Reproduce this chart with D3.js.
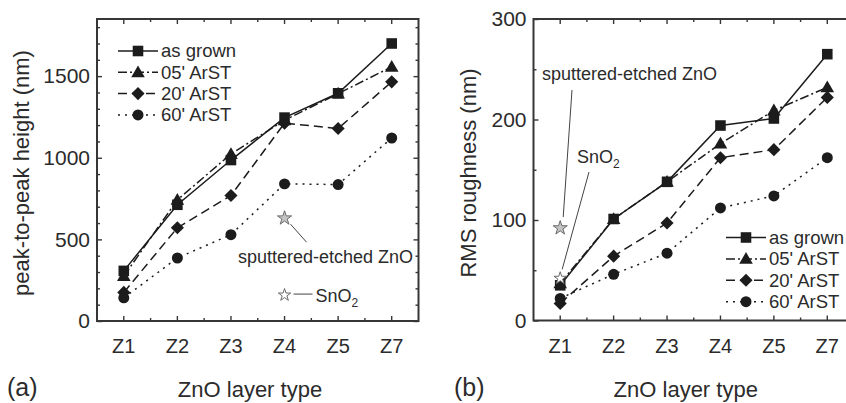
<!DOCTYPE html>
<html>
<head>
<meta charset="utf-8">
<script src="https://cdn.jsdelivr.net/npm/d3@7"></script>
<style>
  html, body { margin: 0; padding: 0; background: #fff; }
  svg { display: block; font-family: "Liberation Sans", Arial, Helvetica, sans-serif; }
  text { fill: #2b2b2b; }
</style>
</head>
<body>
<svg id="chart" width="846" height="403"></svg>
<script>
// ---------------- data ----------------
const categories = ["Z1", "Z2", "Z3", "Z4", "Z5", "Z7"];
const seriesNames = ["as grown", "05' ArST", "20' ArST", "60' ArST"];

// (a) peak-to-peak height (nm)
const p2pAsGrown = [307, 712, 986, 1246, 1395, 1700];
const p2p05 = [275, 742, 1023, 1230, 1393, 1557];
const p2p20 = [175, 571, 769, 1212, 1179, 1465];
const p2p60 = [142, 386, 529, 840, 836, 1121];

// (b) RMS roughness (nm)
const rmsAsGrown = [35, 101, 138, 194, 201, 265];
const rms05 = [37, 101, 138, 176, 209, 232];
const rms20 = [17, 64, 97, 162, 170, 222];
const rms60 = [22, 46, 67, 112, 124, 162];

// reference stars: [category, value]
const p2pSputtered = ["Z4", 636];
const p2pSnO2 = ["Z4", 165];
const rmsSputtered = ["Z1", 93];
const rmsSnO2 = ["Z1", 43];

const p2pTicks = [0, 500, 1000, 1500];
const rmsTicks = [0, 100, 200, 300];

// ---------------- styles ----------------
const ink = "#1c1c1c";
const frame = "#363636";
const dashes = [null, "9,3,2,3", "9,5", "2,5"];
const symbols = ["square", "triangle", "diamond", "circle"];

const svg = d3.select("#chart");

function markerPath(kind) {
  if (kind === "square") return d3.symbol(d3.symbolSquare, 112)();
  if (kind === "triangle") return d3.symbol(d3.symbolTriangle, 80)();
  if (kind === "diamond") return d3.symbol(d3.symbolSquare, 86)();
  return d3.symbol(d3.symbolCircle, 95)();
}
function markerTransform(kind, x, y) {
  if (kind === "diamond") return `translate(${x},${y}) rotate(45)`;
  if (kind === "triangle") return `translate(${x},${y + 1})`;
  return `translate(${x},${y})`;
}

function panel(opts) {
  const g = svg.append("g");
  const x = d3.scaleBand().domain(categories).range([opts.x0, opts.x1]).padding(0);
  const y = d3.scaleLinear().domain(opts.yDomain).range([opts.y0, opts.y1]);
  const cx = c => x(c) + x.bandwidth() / 2;
  const fmt = d3.format("d");

  const axisStyle = sel => {
    sel.selectAll(".domain").remove();
    sel.selectAll(".tick line").attr("stroke", frame).attr("stroke-width", 1.4);
    sel.selectAll("text").attr("fill", "#2b2b2b");
  };
  // bottom
  g.append("g").attr("transform", `translate(0,${opts.y0})`)
    .call(d3.axisBottom(x).tickSize(-5).tickPadding(18))
    .call(axisStyle)
    .selectAll("text").attr("font-size", 20);
  // top
  g.append("g").attr("transform", `translate(0,${opts.y1})`)
    .call(d3.axisTop(x).tickSize(-5).tickFormat(""))
    .call(axisStyle);
  // minor x ticks (band edges)
  const minorX = categories.slice(1);
  [opts.y0, opts.y1].forEach((yy, k) => {
    g.append("g").selectAll("line").data(minorX).join("line")
      .attr("x1", c => x(c)).attr("x2", c => x(c))
      .attr("y1", yy).attr("y2", k === 0 ? yy - 3 : yy + 3)
      .attr("stroke", frame).attr("stroke-width", 1.4);
  });
  const minorY = d3.range(opts.yDomain[0], opts.yDomain[1] + 1e-6, opts.minorStep)
    .filter(v => !opts.ticks.includes(v));
  // left
  g.append("g").attr("transform", `translate(${opts.x0},0)`)
    .call(d3.axisLeft(y).tickValues(opts.ticks).tickFormat(fmt).tickSize(-5).tickPadding(7))
    .call(axisStyle)
    .selectAll("text").attr("font-size", 21);
  g.append("g").attr("transform", `translate(${opts.x0},0)`)
    .call(d3.axisLeft(y).tickValues(minorY).tickSize(-3).tickFormat(""))
    .call(axisStyle);
  // right
  g.append("g").attr("transform", `translate(${opts.x1},0)`)
    .call(d3.axisRight(y).tickValues(opts.ticks).tickSize(-5).tickFormat(""))
    .call(axisStyle);
  g.append("g").attr("transform", `translate(${opts.x1},0)`)
    .call(d3.axisRight(y).tickValues(minorY).tickSize(-3).tickFormat(""))
    .call(axisStyle);

  // frame
  g.append("rect")
    .attr("x", opts.x0).attr("y", opts.y1)
    .attr("width", opts.x1 - opts.x0).attr("height", opts.y0 - opts.y1)
    .attr("fill", "none").attr("stroke", frame).attr("stroke-width", 2);

  // series
  const line = d3.line().x((d, i) => cx(categories[i])).y(d => y(d));
  opts.series.forEach((vals, s) => {
    g.append("path").datum(vals)
      .attr("d", line).attr("fill", "none")
      .attr("stroke", ink).attr("stroke-width", 1.5)
      .attr("stroke-dasharray", dashes[s]);
  });
  opts.series.forEach((vals, s) => {
    g.append("g").selectAll("path").data(vals).join("path")
      .attr("d", markerPath(symbols[s]))
      .attr("transform", (d, i) => markerTransform(symbols[s], cx(categories[i]), y(d)))
      .attr("fill", ink);
  });

  // legend
  const lg = g.append("g");
  seriesNames.forEach((name, s) => {
    const yy = opts.legY + s * opts.legDy;
    lg.append("line")
      .attr("x1", opts.legX).attr("x2", opts.legX + 40)
      .attr("y1", yy).attr("y2", yy)
      .attr("stroke", ink).attr("stroke-width", 1.5)
      .attr("stroke-dasharray", dashes[s]);
    lg.append("path").attr("d", markerPath(symbols[s]))
      .attr("transform", markerTransform(symbols[s], opts.legX + 20, yy))
      .attr("fill", ink);
    lg.append("text").attr("x", opts.legX + 43).attr("y", yy).attr("dy", "0.35em")
      .attr("font-size", 18.5).text(name);
  });

  // stars
  const star = d3.symbol(d3.symbolStar);
  const sp = opts.sputtered, sn = opts.sno2;
  g.append("path").attr("d", star.size(62)())
    .attr("transform", `translate(${cx(sp[0])},${y(sp[1]) + 1})`)
    .attr("fill", "#c4c4c4").attr("stroke", "#6a6a6a").attr("stroke-width", 1);
  g.append("path").attr("d", star.size(48)())
    .attr("transform", `translate(${cx(sn[0])},${y(sn[1]) + 1})`)
    .attr("fill", "#fff").attr("stroke", "#6a6a6a").attr("stroke-width", 1);

  // axis titles
  g.append("text").attr("x", (opts.x0 + opts.x1c) / 2).attr("y", 397)
    .attr("text-anchor", "middle").attr("font-size", 22).text("ZnO layer type");
  g.append("text").attr("transform", `translate(${opts.titleX},173) rotate(-90)`)
    .attr("text-anchor", "middle").attr("font-size", 22).text(opts.yTitle);
  g.append("text").attr("x", opts.tagX).attr("y", 396)
    .attr("font-size", 25).text(opts.tag);

  return { g, x, y, cx };
}

// ---------- panel (a) ----------
const A = panel({
  x0: 97, x1: 418.5, x1c: 403, y0: 321, y1: 19,
  yDomain: [0, 1850], ticks: p2pTicks, minorStep: 100,
  series: [p2pAsGrown, p2p05, p2p20, p2p60],
  legX: 118, legY: 51, legDy: 21.3,
  sputtered: p2pSputtered, sno2: p2pSnO2,
  yTitle: "peak-to-peak height (nm)", titleX: 29, tag: "(a)", tagX: 7
});
// annotations (a)
{
  const sx = A.cx(p2pSputtered[0]), sy = A.y(p2pSputtered[1]);
  A.g.append("line").attr("x1", sx + 6).attr("y1", sy + 7).attr("x2", sx + 22).attr("y2", sy + 25)
    .attr("stroke", "#444").attr("stroke-width", 1);
  A.g.append("text").attr("x", 238).attr("y", 263).attr("font-size", 18).text("sputtered-etched ZnO");
  const nx = A.cx(p2pSnO2[0]), ny = A.y(p2pSnO2[1]);
  A.g.append("line").attr("x1", nx + 9).attr("y1", ny).attr("x2", nx + 28).attr("y2", ny)
    .attr("stroke", "#444").attr("stroke-width", 1);
  const t = A.g.append("text").attr("x", nx + 31).attr("y", ny + 8).attr("font-size", 18);
  t.append("tspan").text("SnO");
  t.append("tspan").attr("font-size", 12).attr("dy", 5).text("2");
}

// ---------- panel (b) ----------
const B = panel({
  x0: 533.5, x1: 854, x1c: 838, y0: 320.5, y1: 19,
  yDomain: [0, 300], ticks: rmsTicks, minorStep: 50,
  series: [rmsAsGrown, rms05, rms20, rms60],
  legX: 726, legY: 237.5, legDy: 21.4,
  sputtered: rmsSputtered, sno2: rmsSnO2,
  yTitle: "RMS roughness (nm)", titleX: 476, tag: "(b)", tagX: 454
});
// annotations (b)
{
  const sx = B.cx(rmsSputtered[0]), sy = B.y(rmsSputtered[1]);
  B.g.append("line").attr("x1", sx + 3).attr("y1", sy - 10).attr("x2", 572).attr("y2", 90)
    .attr("stroke", "#444").attr("stroke-width", 1);
  B.g.append("text").attr("x", 542).attr("y", 80).attr("font-size", 18).text("sputtered-etched ZnO");
  const nx = B.cx(rmsSnO2[0]), ny = B.y(rmsSnO2[1]);
  B.g.append("line").attr("x1", nx + 2).attr("y1", ny - 8).attr("x2", 589).attr("y2", 172)
    .attr("stroke", "#444").attr("stroke-width", 1);
  const t = B.g.append("text").attr("x", 577).attr("y", 163).attr("font-size", 18);
  t.append("tspan").text("SnO");
  t.append("tspan").attr("font-size", 12).attr("dy", 5).text("2");
}
</script>
</body>
</html>
